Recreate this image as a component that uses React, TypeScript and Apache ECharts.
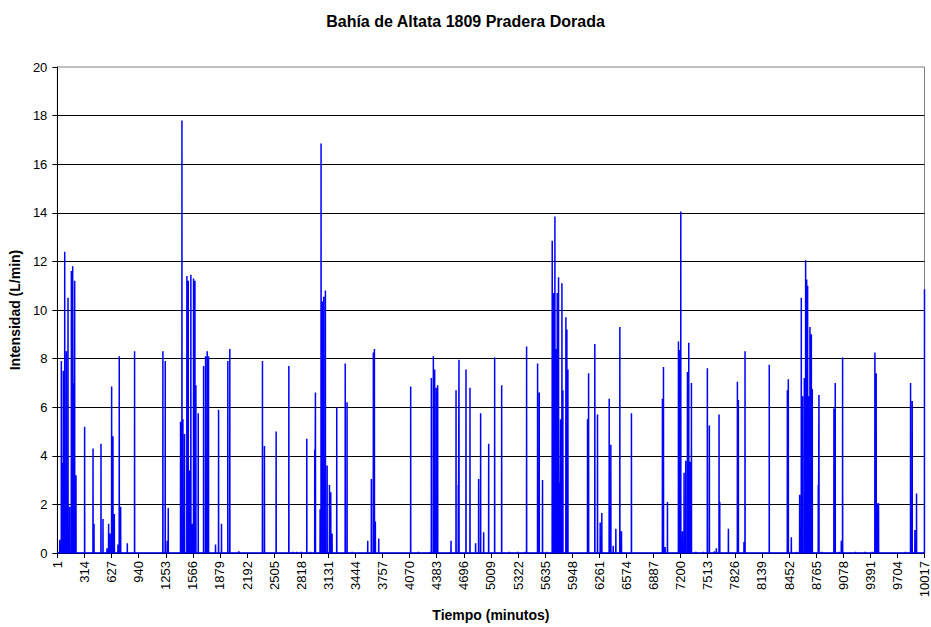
import React, { useEffect, useRef } from "react";
import * as echarts from "echarts";

const chartTitle = "Bahía de Altata 1809 Pradera Dorada";
const xAxisTitle = "Tiempo (minutos)";
const yAxisTitle = "Intensidad (L/min)";

const xMin = 1;
const xMax = 10017;
const xStep = 313;
const yMin = 0;
const yMax = 20;
const yStep = 2;

// minutes at which an intensity peak occurs (all other minutes are 0)
const peakMinutes = [
  28, 47, 59, 70, 86, 105, 124, 143, 163, 178, 193, 201, 216, 316, 413, 424, 505, 528, 574, 593,
  609, 628, 643, 659, 701, 716, 732, 809, 893, 1220, 1247, 1270, 1282, 1424, 1440, 1451, 1470,
  1497, 1513, 1528, 1543, 1559, 1574, 1590, 1601, 1628, 1690, 1713, 1732, 1747, 1828, 1863, 1897,
  1970, 1993, 2097, 2370, 2393, 2528, 2675, 2720, 2766, 2817, 2882, 2924, 2974, 2982, 3036, 3047,
  3063, 3078, 3097, 3117, 3144, 3159, 3174, 3228, 3326, 3347, 3405, 3586, 3628, 3651, 3663, 3674,
  3713, 4082, 4171, 4309, 4321, 4344, 4359, 4378, 4394, 4548, 4606, 4632, 4640, 4721, 4767, 4832,
  4867, 4890, 4925, 4983, 5052, 5133, 5221, 5317, 5405, 5421, 5548, 5567, 5605, 5655, 5717, 5732,
  5748, 5763, 5775, 5790, 5806, 5813, 5829, 5840, 5875, 5886, 5898, 6125, 6137, 6209, 6240, 6271,
  6290, 6375, 6394, 6421, 6452, 6498, 6517, 6632, 6990, 7002, 7021, 7048, 7175, 7190, 7202, 7221,
  7240, 7259, 7279, 7294, 7309, 7325, 7375, 7463, 7509, 7532, 7590, 7613, 7644, 7652, 7752, 7856,
  7867, 7932, 7944, 8224, 8433, 8444, 8479, 8540, 8575, 8594, 8609, 8629, 8644, 8656, 8667, 8679,
  8694, 8710, 8721, 8790, 8798, 8829, 8971, 8986, 9029, 9056, 9071, 9221, 9329, 9413, 9444, 9459,
  9471, 9486, 9798, 9856, 9875, 9906, 9925, 10017,
];

// intensity (L/min) at each of those minutes
const peakValues = [
  0.55, 7.9, 3.7, 7.5, 12.4, 8.3, 10.5, 1.9, 11.6, 11.8, 7.0, 11.2, 3.2, 5.2, 4.3, 1.2, 4.5, 1.4, 0.2, 1.2,
  0.8, 6.85, 4.8, 1.6, 0.35, 8.1, 1.9, 0.4, 8.3, 8.3, 7.9, 0.5, 1.85, 5.4, 17.8, 5.5, 4.9,
  11.4, 11.2, 3.4, 11.45, 1.2, 11.3, 11.2, 6.9, 5.75, 7.7, 8.1, 8.3, 8.1, 0.35, 5.9, 1.2,
  7.9, 8.4, 0.07, 7.9, 4.4, 5.0, 7.7, 0.05, 0.05, 0.05, 4.7, 0.05, 4.25, 6.6, 1.8, 16.85,
  10.35, 10.55, 10.8, 3.6, 2.8, 2.5, 0.8, 6.0, 7.8, 6.2, 0.05, 0.5, 3.05, 8.25, 8.4, 1.3,
  0.6, 6.85, 0.05, 0.05, 7.2, 8.1, 7.55, 6.8, 6.9, 0.5, 6.7, 2.8, 7.95, 7.55, 6.8, 0.4,
  3.05, 5.75, 0.85, 4.5, 8.05, 6.9, 0.05, 0.05, 0.05, 8.5, 7.8, 6.6, 3.0, 0.05, 12.85, 10.7,
  13.85, 8.4, 10.7, 11.35, 2.9, 5.5, 11.1, 6.7, 9.7, 9.2, 7.55, 5.5, 7.4, 8.6, 5.7, 1.25,
  1.65, 6.35, 4.45, 0.3, 1.0, 9.3, 0.9, 5.75, 6.35, 7.65, 0.25, 2.1, 8.7, 8.35, 14.05, 0.9,
  3.3, 3.8, 7.45, 8.65, 3.75, 7.0, 0.05, 0.05, 7.6, 5.25, 0.07, 0.2, 5.7, 2.1, 1.0, 7.05,
  6.3, 0.45, 8.3, 7.75, 6.7, 7.15, 0.65, 0.05, 2.4, 10.5, 6.45, 7.2, 12.05, 11.25, 11.0, 6.45,
  9.3, 9.0, 6.75, 2.8, 6.5, 0.05, 5.95, 7.0, 0.05, 0.5, 8.05, 0.05, 0.05, 0.05, 8.25, 7.4,
  2.05, 2.05, 0.05, 7.0, 6.25, 0.95, 2.45, 10.85,
];

function buildSeriesData(): [number, number][] {
  const pts: [number, number][] = [[xMin, 0]];
  peakMinutes.forEach((m, i) => {
    const last = pts[pts.length - 1][0];
    if (m - 1 > last) pts.push([m - 1, 0]);
    pts.push([m, peakValues[i]]);
    if (m + 1 <= xMax) pts.push([m + 1, 0]);
  });
  if (pts[pts.length - 1][0] < xMax) pts.push([xMax, 0]);
  return pts;
}

const FONT = "'Liberation Sans', Arial, sans-serif";

export default function App() {
  const ref = useRef<HTMLDivElement>(null);
  useEffect(() => {
    if (!ref.current) return;
    const chart = echarts.init(ref.current, undefined, { renderer: "svg" });
    chart.setOption({
      animation: false,
      backgroundColor: "#ffffff",
      textStyle: { fontFamily: FONT },
      title: {
        text: chartTitle,
        left: "center",
        top: 8,
        textStyle: { fontFamily: FONT, fontWeight: "bold", fontSize: 16, color: "#000" },
      },
      grid: {
        left: 56,
        right: 6,
        top: 67,
        bottom: 74,
        show: true,
        borderColor: "#808080",
        borderWidth: 1,
        backgroundColor: "#ffffff",
      },
      xAxis: {
        type: "value",
        min: xMin,
        max: xMax,
        interval: xStep,
        name: xAxisTitle,
        nameLocation: "middle",
        nameGap: 55,
        nameTextStyle: { fontFamily: FONT, fontWeight: "bold", fontSize: 14, color: "#000" },
        axisLine: { show: true, lineStyle: { color: "#000", width: 1 } },
        axisTick: { show: true, length: 5, lineStyle: { color: "#000" } },
        axisLabel: {
          rotate: 90,
          fontSize: 13,
          color: "#000",
          margin: 8,
          fontFamily: FONT,
          showMinLabel: true,
          showMaxLabel: true,
          hideOverlap: false,
          formatter: (v: number) => String(Math.round(v)),
        },
        splitLine: { show: false },
      },
      yAxis: {
        type: "value",
        min: yMin,
        max: yMax,
        interval: yStep,
        name: yAxisTitle,
        nameLocation: "middle",
        nameGap: 32,
        nameTextStyle: { fontFamily: FONT, fontWeight: "bold", fontSize: 14, color: "#000" },
        axisLine: { show: true, lineStyle: { color: "#000", width: 1 } },
        axisTick: { show: true, length: 5, lineStyle: { color: "#000" } },
        axisLabel: { fontSize: 13, color: "#000", margin: 10, fontFamily: FONT },
        splitLine: { show: true, showMaxLine: false, lineStyle: { color: "#000", width: 1 } },
      },
      series: [
        {
          type: "line",
          data: buildSeriesData(),
          symbol: "none",
          showSymbol: false,
          silent: true,
          lineStyle: { color: "#0000ff", width: 1.5 },
          z: 3,
        },
      ],
    });
    return () => chart.dispose();
  }, []);
  return (
    <div
      ref={ref}
      style={{ position: "fixed", left: 0, top: 0, width: 931, height: 627 }}
    />
  );
}
